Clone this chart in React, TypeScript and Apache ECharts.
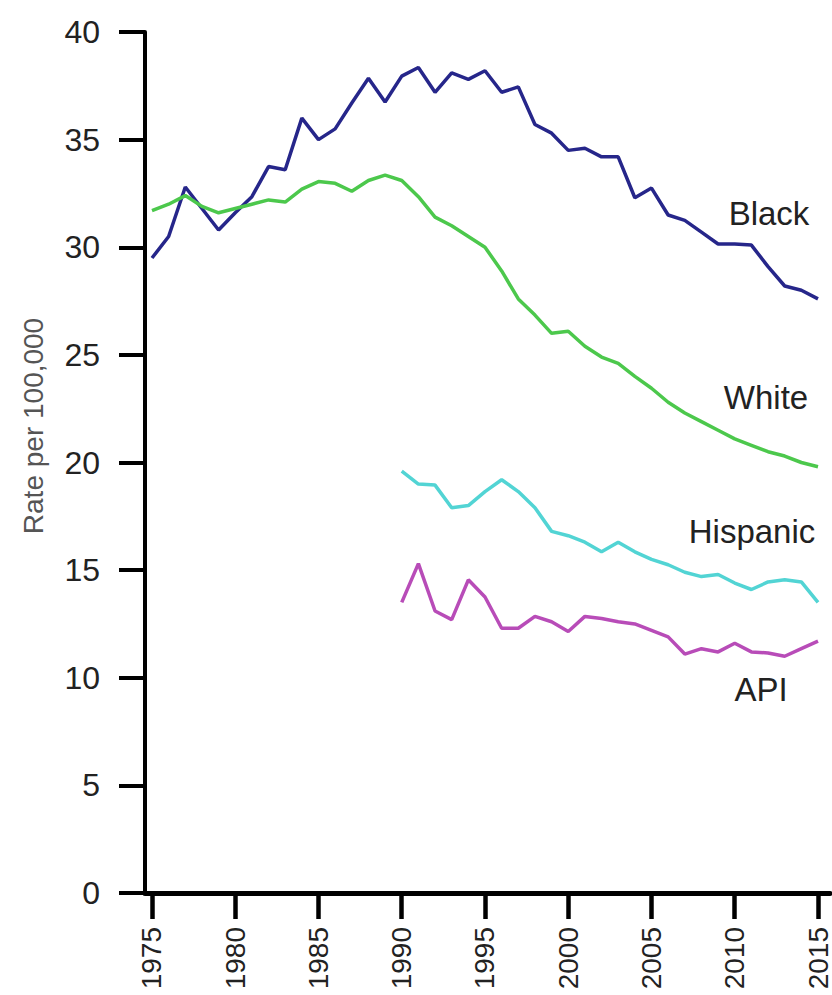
import React, { useEffect, useRef } from "react";
import * as echarts from "echarts";

const years: number[] = [];
for (let y = 1975; y <= 2015; y++) years.push(y);
const tickYears = [1975, 1980, 1985, 1990, 1995, 2000, 2005, 2010, 2015];

const seriesNames = ["Black", "White", "Hispanic", "API"];
const seriesColors = ["#26268a", "#4cc84c", "#52d4d4", "#b84cb8"];

// 1975-2015
const black = [
  29.5, 30.5, 32.8, 31.8, 30.8, 31.6, 32.35, 33.75, 33.6, 36.0,
  35.0, 35.5, 36.7, 37.85, 36.75, 37.95, 38.35, 37.2, 38.1, 37.8,
  38.2, 37.2, 37.45, 35.7, 35.3, 34.5, 34.6, 34.2, 34.2, 32.3,
  32.75, 31.5, 31.25, 30.7, 30.15, 30.15, 30.1, 29.1, 28.2, 28.0,
  27.6,
];
// 1975-2015
const white = [
  31.7, 32.0, 32.4, 31.9, 31.6, 31.8, 32.0, 32.2, 32.1, 32.7,
  33.05, 32.97, 32.6, 33.1, 33.35, 33.1, 32.35, 31.4, 31.0, 30.5,
  30.0, 28.9, 27.6, 26.85, 26.0, 26.1, 25.4, 24.9, 24.6, 24.0,
  23.45, 22.8, 22.3, 21.9, 21.5, 21.1, 20.8, 20.5, 20.3, 20.0,
  19.8,
];
// 1990-2015
const hispanic = [
  19.6, 19.0, 18.95, 17.9, 18.0, 18.65, 19.2, 18.65, 17.9, 16.8,
  16.6, 16.3, 15.85, 16.3, 15.85, 15.5, 15.25, 14.9, 14.7, 14.8,
  14.4, 14.1, 14.45, 14.55, 14.45, 13.5,
];
// 1990-2015
const api = [
  13.5, 15.3, 13.1, 12.7, 14.55, 13.75, 12.3, 12.3, 12.85, 12.6,
  12.15, 12.85, 12.75, 12.6, 12.5, 12.2, 11.9, 11.1, 11.35, 11.2,
  11.6, 11.2, 11.15, 11.0, 11.35, 11.7,
];

const seriesValues = [black, white, hispanic, api];
const seriesStart = [1975, 1975, 1990, 1990];

const labelPos = [
  { x: 769, y: 213 },
  { x: 766, y: 397 },
  { x: 752, y: 531 },
  { x: 761, y: 689 },
];

const FONT = "'Liberation Sans', Arial, Helvetica, sans-serif";

export default function App() {
  const ref = useRef<HTMLDivElement>(null);
  useEffect(() => {
    if (!ref.current) return;
    const chart = echarts.init(ref.current, undefined, { renderer: "svg" });
    const series = seriesValues.map((vals, i) => ({
      name: seriesNames[i],
      type: "line",
      data: vals.map((v, k) => [seriesStart[i] + k, v]),
      showSymbol: false,
      symbol: "none",
      lineStyle: { color: seriesColors[i], width: 3.5 },
      itemStyle: { color: seriesColors[i] },
      z: 2,
    }));
    chart.setOption({
      animation: false,
      backgroundColor: "#ffffff",
      grid: { left: 145, right: 0, top: 32, bottom: 102, containLabel: false },
      xAxis: {
        type: "value",
        min: 1974.58,
        max: 2015.72,
        splitLine: { show: false },
        axisLine: { show: true, lineStyle: { color: "#000", width: 5 } },
        axisTick: {
          show: true,
          customValues: tickYears,
          length: 26,
          lineStyle: { color: "#000", width: 4.5 },
        },
        axisLabel: {
          customValues: tickYears,
          rotate: 90,
          margin: 34,
          fontSize: 28,
          color: "#222",
          fontFamily: FONT,
          formatter: (v: number) => String(v),
        },
      },
      yAxis: {
        type: "value",
        min: 0,
        max: 40,
        interval: 5,
        splitLine: { show: false },
        axisLine: { show: true, lineStyle: { color: "#000", width: 4 } },
        axisTick: { show: true, length: 26, lineStyle: { color: "#000", width: 4 } },
        axisLabel: {
          margin: 45,
          fontSize: 32,
          color: "#222",
          fontFamily: FONT,
        },
      },
      graphic: [
        {
          type: "text",
          x: 33,
          y: 426,
          rotation: Math.PI / 2,
          style: {
            text: "Rate per 100,000",
            fontSize: 28,
            fontFamily: FONT,
            fill: "#555",
            align: "center",
            verticalAlign: "middle",
          },
        },
        ...seriesNames.map((n, i) => ({
          type: "text",
          x: labelPos[i].x,
          y: labelPos[i].y,
          style: {
            text: n,
            fontSize: 33,
            fontFamily: FONT,
            fill: "#222",
            align: "center",
            verticalAlign: "middle",
          },
        })),
      ],
      series,
    });
    return () => chart.dispose();
  }, []);
  return (
    <div
      ref={ref}
      style={{ position: "absolute", left: 0, top: 0, width: 832, height: 995 }}
    />
  );
}
